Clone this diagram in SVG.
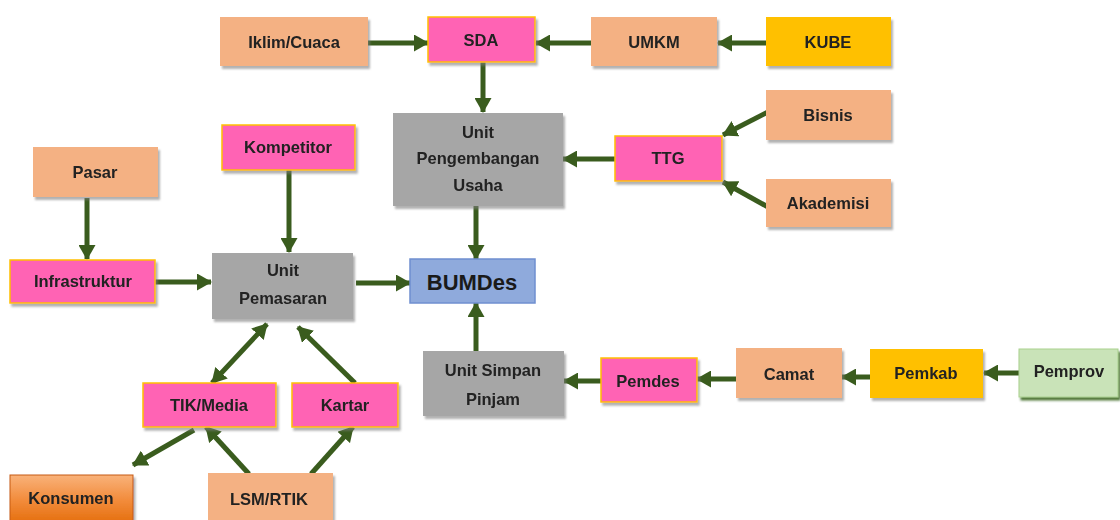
<svg xmlns="http://www.w3.org/2000/svg" width="1120" height="520" viewBox="0 0 1120 520">
<defs>
<style>
.t{font-family:"Liberation Sans",Arial,sans-serif;font-weight:bold;font-size:16.5px;fill:#222;text-anchor:middle;dominant-baseline:central}
.big{font-size:22px;fill:#1a1a1a}
.peach{fill:#F4B183}
.pink{fill:#FF63B4;stroke:#FFC000;stroke-width:1.5}
.gray{fill:#A6A6A6}
.gold{fill:#FFC000}
.green{fill:#C9E3B8;stroke:#A9D18E;stroke-width:1}
.blue{fill:#8FAADC;stroke:#6F8FD0;stroke-width:1.5}
.kons{fill:url(#og);stroke:#C55A11;stroke-width:1}
.c{stroke:#3A5C1E;stroke-width:5;fill:none;marker-end:url(#ah)}
.c2{marker-start:url(#ah)}
</style>
<filter id="sh" x="-10%" y="-10%" width="125%" height="135%">
<feDropShadow dx="2" dy="3" stdDeviation="1" flood-color="#7f7f7f" flood-opacity="0.6"/>
</filter>
<filter id="shg" x="-10%" y="-10%" width="125%" height="135%">
<feDropShadow dx="2" dy="3" stdDeviation="0.8" flood-color="#3E6B22" flood-opacity="0.9"/>
</filter>
<linearGradient id="og" x1="0" y1="0" x2="0" y2="1">
<stop offset="0" stop-color="#F9B27A"/>
<stop offset="0.5" stop-color="#F28C3C"/>
<stop offset="1" stop-color="#E46C0A"/>
</linearGradient>
<marker id="ah" viewBox="0 0 15 17" refX="14" refY="8.5" markerWidth="15" markerHeight="17" markerUnits="userSpaceOnUse" orient="auto-start-reverse">
<path d="M0,0 L15,8.5 L0,17 Z" fill="#3A5C1E"/>
</marker>
</defs>

<g id="connectors">
<line class="c" x1="368" y1="43" x2="428" y2="43"/>
<line class="c" x1="591" y1="43" x2="536" y2="43"/>
<line class="c" x1="766" y1="43" x2="718" y2="43"/>
<line class="c" x1="483" y1="62" x2="483" y2="112"/>
<line class="c" x1="615" y1="159" x2="563" y2="159"/>
<line class="c" x1="768" y1="112" x2="723" y2="135"/>
<line class="c" x1="768" y1="207" x2="723" y2="182"/>
<line class="c" x1="476" y1="206" x2="476" y2="259"/>
<line class="c" x1="87" y1="198" x2="87" y2="259"/>
<line class="c" x1="155" y1="282" x2="211" y2="282"/>
<line class="c" x1="289" y1="170" x2="289" y2="252"/>
<line class="c" x1="356" y1="283" x2="410" y2="283"/>
<line class="c" x1="476" y1="351" x2="476" y2="303"/>
<line class="c" x1="601" y1="381" x2="564" y2="381"/>
<line class="c" x1="736" y1="379" x2="697" y2="379"/>
<line class="c" x1="870" y1="377" x2="842" y2="377"/>
<line class="c" x1="1019" y1="373" x2="984" y2="373"/>
<line class="c c2" x1="212" y1="383" x2="267" y2="324"/>
<line class="c" x1="355" y1="383" x2="298" y2="327"/>
<line class="c" x1="194" y1="430" x2="133" y2="465"/>
<line class="c" x1="249" y1="474" x2="206" y2="427"/>
<line class="c" x1="311" y1="474" x2="353" y2="427"/>
</g>

<g id="iklim" filter="url(#sh)"><rect class="peach" x="220" y="17" width="148" height="49"/><text class="t" x="294" y="42">Iklim/Cuaca</text></g>
<g id="sda" filter="url(#sh)"><rect class="pink" x="428" y="17" width="107" height="45"/><text class="t" x="481" y="40">SDA</text></g>
<g id="umkm" filter="url(#sh)"><rect class="peach" x="591" y="17" width="126" height="49"/><text class="t" x="654" y="42">UMKM</text></g>
<g id="kube" filter="url(#sh)"><rect class="gold" x="766" y="17" width="125" height="49"/><text class="t" x="828" y="42">KUBE</text></g>

<g id="upu" filter="url(#sh)"><rect class="gray" x="393" y="113" width="170" height="93"/><text class="t" x="478" y="132">Unit</text><text class="t" x="478" y="158">Pengembangan</text><text class="t" x="478" y="185">Usaha</text></g>
<g id="ttg" filter="url(#sh)"><rect class="pink" x="615" y="136" width="107" height="45"/><text class="t" x="668" y="158">TTG</text></g>
<g id="bisnis" filter="url(#sh)"><rect class="peach" x="766" y="90" width="125" height="50"/><text class="t" x="828" y="115">Bisnis</text></g>
<g id="akademisi" filter="url(#sh)"><rect class="peach" x="766" y="179" width="125" height="48"/><text class="t" x="828" y="203">Akademisi</text></g>

<g id="pasar" filter="url(#sh)"><rect class="peach" x="33" y="147" width="125" height="50"/><text class="t" x="95" y="172">Pasar</text></g>
<g id="infrastruktur" filter="url(#sh)"><rect class="pink" x="10" y="260" width="145" height="43"/><text class="t" x="83" y="281">Infrastruktur</text></g>
<g id="kompetitor" filter="url(#sh)"><rect class="pink" x="222" y="125" width="133" height="45"/><text class="t" x="288" y="147">Kompetitor</text></g>
<g id="pemasaran" filter="url(#sh)"><rect class="gray" x="212" y="253" width="141" height="66"/><text class="t" x="283" y="270">Unit</text><text class="t" x="283" y="298">Pemasaran</text></g>
<g id="bumdes"><rect class="blue" x="410" y="259" width="125" height="44"/><text class="t big" x="472" y="282">BUMDes</text></g>

<g id="tik" filter="url(#sh)"><rect class="pink" x="143" y="383" width="133" height="44"/><text class="t" x="209" y="405">TIK/Media</text></g>
<g id="kartar" filter="url(#sh)"><rect class="pink" x="292" y="383" width="106" height="44"/><text class="t" x="345" y="405">Kartar</text></g>
<g id="konsumen" filter="url(#sh)"><rect class="kons" x="10" y="475" width="123" height="50"/><text class="t" x="71" y="498">Konsumen</text></g>
<g id="lsm" filter="url(#sh)"><rect class="peach" x="208" y="473" width="125" height="52"/><text class="t" x="269" y="499">LSM/RTIK</text></g>

<g id="usp" filter="url(#sh)"><rect class="gray" x="423" y="351" width="141" height="65"/><text class="t" x="493" y="370">Unit Simpan</text><text class="t" x="493" y="399">Pinjam</text></g>
<g id="pemdes" filter="url(#sh)"><rect class="pink" x="601" y="358" width="96" height="44"/><text class="t" x="648" y="381">Pemdes</text></g>
<g id="camat" filter="url(#sh)"><rect class="peach" x="736" y="348" width="106" height="50"/><text class="t" x="789" y="374">Camat</text></g>
<g id="pemkab" filter="url(#sh)"><rect class="gold" x="870" y="349" width="113" height="49"/><text class="t" x="926" y="373">Pemkab</text></g>
<g id="pemprov" filter="url(#shg)"><rect class="green" x="1019" y="349" width="99" height="48"/><text class="t" x="1069" y="371">Pemprov</text></g>
</svg>
